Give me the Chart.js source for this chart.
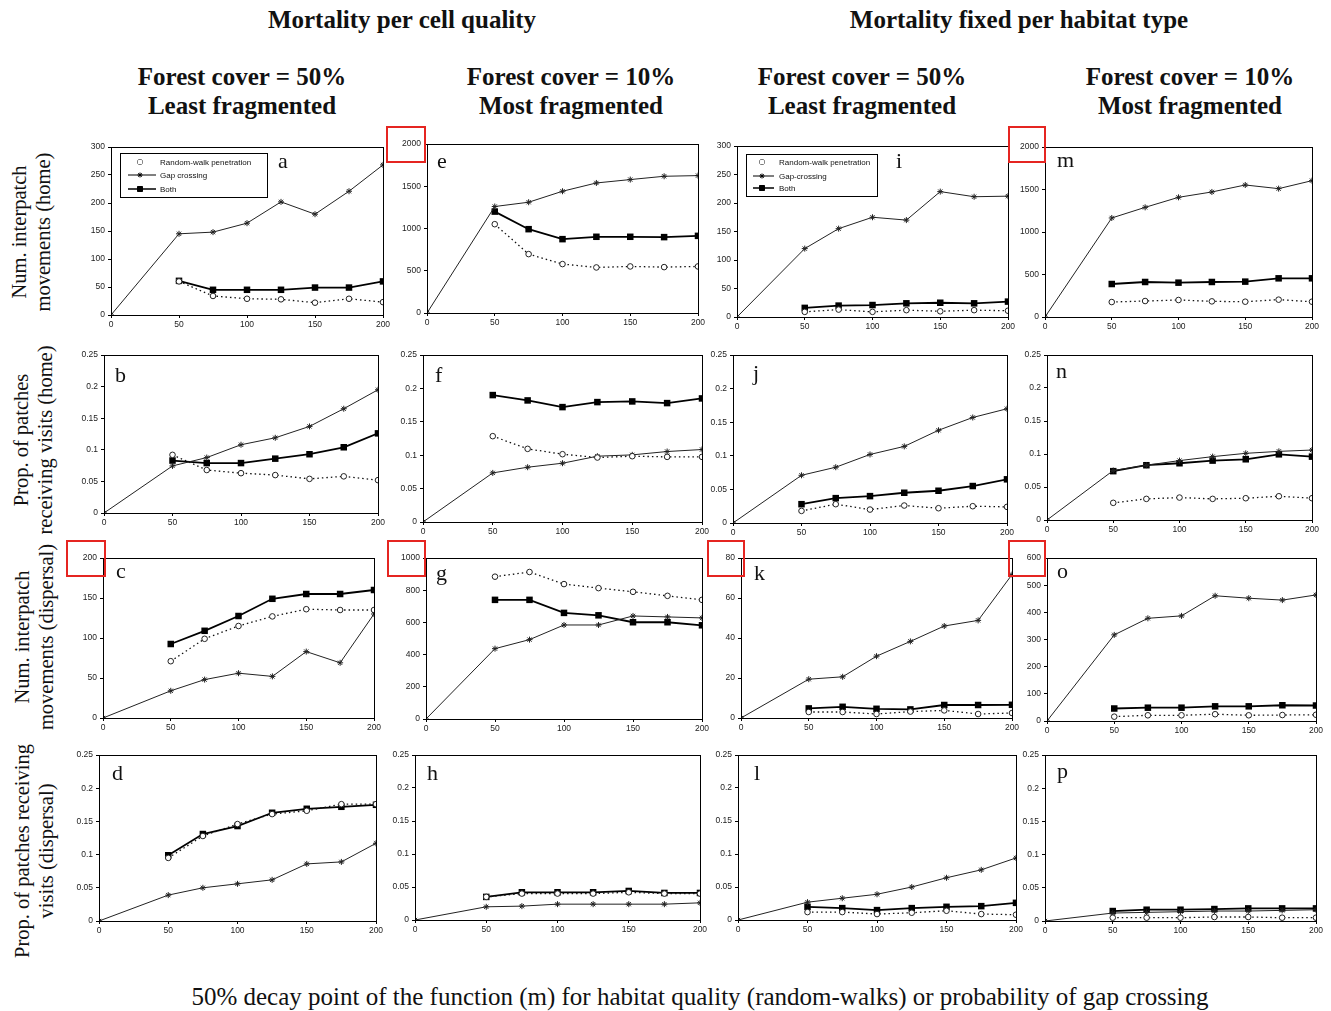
<!DOCTYPE html>
<html>
<head>
<meta charset="utf-8">
<script src="https://cdn.jsdelivr.net/npm/chart.js@4.4.0/dist/chart.umd.min.js"></script>
<style>
  body { margin:0; background:#fff; width:1331px; height:1011px; position:relative; overflow:hidden; font-family:"Liberation Serif", serif; color:#111; }
  .c { position:absolute; white-space:nowrap; transform:translate(-50%,-50%); }
  .ttl { font-weight:bold; font-size:25px; line-height:26px; }
  .hd { font-weight:bold; font-size:25px; line-height:29px; text-align:center; }
  .yl { position:absolute; white-space:nowrap; text-align:center; font-size:20.5px; line-height:24px; transform:translate(-50%,-50%) rotate(-90deg); }
  .lt { position:absolute; font-size:22px; line-height:22px; }
  .rb { position:absolute; border:2px solid #e52521; box-sizing:border-box; z-index:5; }
  canvas { position:absolute; }
</style>
</head>
<body>
<div class="c ttl" style="left:402px;top:20px">Mortality per cell quality</div>
<div class="c ttl" style="left:1019px;top:20px">Mortality fixed per habitat type</div>

<div class="c hd" style="left:242px;top:91px">Forest cover = 50%<br>Least fragmented</div>
<div class="c hd" style="left:571px;top:91px">Forest cover = 10%<br>Most fragmented</div>
<div class="c hd" style="left:862px;top:91px">Forest cover = 50%<br>Least fragmented</div>
<div class="c hd" style="left:1190px;top:91px">Forest cover = 10%<br>Most fragmented</div>

<div class="yl" style="left:31px;top:232px">Num. interpatch<br>movements (home)</div>
<div class="yl" style="left:33px;top:440px">Prop. of patches<br>receiving visits (home)</div>
<div class="yl" style="left:34px;top:637px">Num. interpatch<br>movements (dispersal)</div>
<div class="yl" style="left:34px;top:851px">Prop. of patches receiving<br>visits (dispersal)</div>

<div class="c" style="left:700px;top:997px;font-size:25px">50% decay point of the function (m) for habitat quality (random-walks) or probability of gap crossing</div>

<div class="rb" style="left:386px;top:126px;width:40px;height:37px"></div>
<div class="rb" style="left:1008px;top:126px;width:38px;height:37px"></div>
<div class="rb" style="left:66px;top:540px;width:40px;height:37px"></div>
<div class="rb" style="left:387px;top:540px;width:39px;height:37px"></div>
<div class="rb" style="left:707px;top:540px;width:38px;height:37px"></div>
<div class="rb" style="left:1008px;top:540px;width:38px;height:37px"></div>

<div id="wrap"></div>

<script>
// x positions (m) of the series; gap-crossing also starts from the origin
const xs = [50, 75, 100, 125, 150, 175, 200];
const gapXs = [0, 50, 75, 100, 125, 150, 175, 200];

// a
const aRw   = [60, 34, 29, 28, 22, 29, 23];
const aGap  = [0, 145, 148, 164, 202, 180, 221, 268];
const aBoth = [61, 45, 45, 45, 49, 49, 60];
// e
const eRw   = [1051, 697, 579, 539, 551, 543, 551];
const eGap  = [0, 1260, 1311, 1441, 1539, 1579, 1618, 1626];
const eBoth = [1200, 992, 874, 902, 902, 898, 913];
// i
const iRw   = [9, 13, 9, 12, 10, 12, 11];
const iGap  = [0, 120, 155, 175, 170, 220, 211, 212];
const iBoth = [16, 20, 21, 24, 25, 24, 27];
// m
const mRw   = [176, 188, 200, 184, 180, 204, 180];
const mGap  = [0, 1165, 1290, 1408, 1471, 1553, 1510, 1604];
const mBoth = [388, 412, 404, 412, 416, 455, 455];
// b
const bRw   = [0.092, 0.068, 0.063, 0.060, 0.054, 0.058, 0.052];
const bGap  = [0, 0.0745, 0.0877, 0.108, 0.119, 0.137, 0.165, 0.195];
const bBoth = [0.083, 0.079, 0.079, 0.086, 0.093, 0.104, 0.126];
// f
const fRw   = [0.1285, 0.1095, 0.1015, 0.0965, 0.0985, 0.0975, 0.0975];
const fGap  = [0, 0.0735, 0.082, 0.088, 0.0985, 0.1005, 0.1055, 0.1085];
const fBoth = [0.19, 0.182, 0.172, 0.1795, 0.1805, 0.178, 0.185];
// j
const jRw   = [0.018, 0.028, 0.020, 0.026, 0.022, 0.025, 0.024];
const jGap  = [0, 0.071, 0.083, 0.102, 0.114, 0.138, 0.157, 0.170];
const jBoth = [0.028, 0.037, 0.040, 0.045, 0.048, 0.055, 0.065];
// n
const nRw   = [0.026, 0.032, 0.034, 0.032, 0.033, 0.036, 0.033];
const nGap  = [0, 0.075, 0.083, 0.090, 0.096, 0.101, 0.104, 0.106];
const nBoth = [0.074, 0.083, 0.086, 0.090, 0.092, 0.0995, 0.096];
// c
const cRw   = [71, 99, 115, 127, 136, 135, 135];
const cGap  = [0, 34, 48, 56, 52, 83, 69, 130];
const cBoth = [92.5, 109, 127.5, 149, 155, 155, 160];
// g
const gRw   = [884, 913, 838, 813, 790, 765, 740];
const gGap  = [0, 437, 493, 584, 584, 640, 634, 628];
const gBoth = [740, 740, 659, 644, 601, 601, 582];
// k
const kRw   = [3, 3, 2, 3.2, 3.8, 2, 2.5];
const kGap  = [0, 19.4, 20.6, 30.9, 38.3, 46, 48.8, 71.7];
const kBoth = [4.8, 5.6, 4.6, 4.3, 6.5, 6.5, 6.6];
// o
const oRw   = [16, 21, 21, 25, 21, 22, 23];
const oGap  = [0, 317, 378, 387, 461, 452, 445, 464];
const oBoth = [46, 49, 49, 54, 54, 58, 57];
// d
const dRw   = [0.095, 0.128, 0.146, 0.161, 0.166, 0.176, 0.176];
const dGap  = [0, 0.039, 0.050, 0.056, 0.062, 0.086, 0.089, 0.117];
const dBoth = [0.099, 0.131, 0.143, 0.163, 0.169, 0.172, 0.175];
// h
const hRw   = [0.035, 0.040, 0.040, 0.040, 0.042, 0.040, 0.040];
const hGap  = [0, 0.020, 0.021, 0.024, 0.024, 0.024, 0.024, 0.026];
const hBoth = [0.035, 0.042, 0.042, 0.042, 0.044, 0.041, 0.041];
// l
const lRw   = [0.012, 0.012, 0.009, 0.011, 0.014, 0.009, 0.008];
const lGap  = [0, 0.027, 0.033, 0.039, 0.050, 0.064, 0.076, 0.094];
const lBoth = [0.020, 0.018, 0.015, 0.018, 0.020, 0.021, 0.026];
// p
const pRw   = [0.005, 0.005, 0.005, 0.006, 0.006, 0.005, 0.005];
const pGap  = [0, 0.012, 0.013, 0.014, 0.015, 0.015, 0.016, 0.017];
const pBoth = [0.015, 0.017, 0.017, 0.018, 0.019, 0.019, 0.019];

const legendA = ['Random-walk penetration', 'Gap crossing', 'Both'];
const legendI = ['Random-walk penetration', 'Gap-crossing', 'Both'];

// plot area rectangles on the page [left, top, right, bottom], letter baseline
const panels = [
  {k:'a', r:[111,147,383,315], max:300,  step:50,  rw:aRw, gap:aGap, both:aBoth, lx:278, ly:168,
   leg:{labels:legendA, dx:9, dy:6, w:147, h:44, rows:[9,22,36], l0:8, l1:36, mk:20, tx:40}},
  {k:'e', r:[427,144,698,313], max:2000, step:500, rw:eRw, gap:eGap, both:eBoth, lx:437, ly:168},
  {k:'i', r:[737,146,1008,317], max:300, step:50,  rw:iRw, gap:iGap, both:iBoth, lx:896, ly:168,
   leg:{labels:legendI, dx:9, dy:8, w:131, h:42, rows:[8,22,34], l0:7, l1:28, mk:16, tx:33}},
  {k:'m', r:[1045,147,1312,317], max:2000, step:500, rw:mRw, gap:mGap, both:mBoth, lx:1057, ly:167},
  {k:'b', r:[104,355,378,513], max:0.25, step:0.05, rw:bRw, gap:bGap, both:bBoth, lx:115, ly:382},
  {k:'f', r:[423,355,702,522], max:0.25, step:0.05, rw:fRw, gap:fGap, both:fBoth, lx:435, ly:382},
  {k:'j', r:[733,355,1007,523], max:0.25, step:0.05, rw:jRw, gap:jGap, both:jBoth, lx:753, ly:380},
  {k:'n', r:[1047,355,1312,520], max:0.25, step:0.05, rw:nRw, gap:nGap, both:nBoth, lx:1056, ly:378},
  {k:'c', r:[103,558,374,718], max:200,  step:50,  rw:cRw, gap:cGap, both:cBoth, lx:116, ly:578},
  {k:'g', r:[426,558,702,719], max:1000, step:200, rw:gRw, gap:gGap, both:gBoth, lx:436, ly:580},
  {k:'k', r:[741,558,1012,718], max:80,  step:20,  rw:kRw, gap:kGap, both:kBoth, lx:754, ly:580},
  {k:'o', r:[1047,558,1316,721], max:600, step:100, rw:oRw, gap:oGap, both:oBoth, lx:1057, ly:578},
  {k:'d', r:[99,755,376,921],  max:0.25, step:0.05, rw:dRw, gap:dGap, both:dBoth, lx:112, ly:780},
  {k:'h', r:[415,755,700,920], max:0.25, step:0.05, rw:hRw, gap:hGap, both:hBoth, lx:427, ly:780},
  {k:'l', r:[738,755,1016,920], max:0.25, step:0.05, rw:lRw, gap:lGap, both:lBoth, lx:754, ly:780},
  {k:'p', r:[1045,755,1316,921], max:0.25, step:0.05, rw:pRw, gap:pGap, both:pBoth, lx:1057, ly:778}
];

const PL = 36, PT = 10, PR = 14, PB = 20;
const tickFont = {family: '"Liberation Sans", Arial, sans-serif', size: 8.5};
// Excel style numbers: 2000, 0.1, 0.05
const fmt = v => String(+Number(v).toFixed(3));

function pts(xv, yv) { return yv.map((y, i) => ({x: xv[i], y: y})); }

// frame around the plot area + legend box inside it
const framePlugin = {
  id: 'frame',
  afterDraw(chart, args, opts) {
    const ctx = chart.ctx, a = chart.chartArea;
    ctx.save();
    ctx.strokeStyle = '#000';
    ctx.lineWidth = 1;
    ctx.strokeRect(a.left + 0.5, a.top + 0.5, a.right - a.left, a.bottom - a.top);
    const leg = opts.leg;
    if (leg) {
      const bx = a.left + leg.dx, by = a.top + leg.dy;
      ctx.fillStyle = '#fff';
      ctx.fillRect(bx, by, leg.w, leg.h);
      ctx.strokeRect(bx + 0.5, by + 0.5, leg.w, leg.h);
      ctx.font = '8px "Liberation Sans", Arial, sans-serif';
      ctx.textBaseline = 'middle';
      chart.data.datasets.forEach((ds, i) => {
        const y = by + leg.rows[i];
        if (i > 0) {
          ctx.beginPath();
          ctx.strokeStyle = '#000';
          ctx.lineWidth = i === 2 ? 1.5 : 1;
          ctx.moveTo(bx + leg.l0, y);
          ctx.lineTo(bx + leg.l1, y);
          ctx.stroke();
        }
        ctx.lineWidth = 1;
        ctx.strokeStyle = '#000';
        ctx.fillStyle = ds.pointBackgroundColor;
        Chart.helpers.drawPoint(ctx, {pointStyle: ds.pointStyle, radius: i === 2 ? 3.5 : 2.5, rotation: 0, borderWidth: 1}, bx + leg.mk, y);
        if (i !== 1) ctx.fill();
        ctx.fillStyle = '#111';
        ctx.fillText(leg.labels[i], bx + leg.tx, y + 0.5);
      });
    }
    ctx.restore();
  }
};

const wrap = document.getElementById('wrap');
panels.forEach(p => {
  const [L, T, R, B] = p.r;
  const cv = document.createElement('canvas');
  const W = (R - L) + PL + PR, H = (B - T) + PT + PB;
  cv.width = W; cv.height = H;
  cv.style.left = (L - PL) + 'px';
  cv.style.top = (T - PT) + 'px';
  cv.style.width = W + 'px';
  cv.style.height = H + 'px';
  wrap.appendChild(cv);

  const lt = document.createElement('div');
  lt.className = 'lt';
  lt.textContent = p.k;
  lt.style.left = p.lx + 'px';
  lt.style.top = (p.ly - 18) + 'px';
  document.body.appendChild(lt);

  new Chart(cv, {
    type: 'line',
    data: {
      datasets: [
        {label: 'Random-walk penetration', data: pts(xs, p.rw), borderColor: '#111', borderWidth: 1.3,
         borderDash: [1.5, 3], pointStyle: 'circle', pointRadius: 2.8, pointBackgroundColor: '#fff',
         pointBorderColor: '#222', pointBorderWidth: 1, tension: 0},
        {label: 'Gap crossing', data: pts(gapXs, p.gap), borderColor: '#222', borderWidth: 1,
         pointStyle: 'star', pointRadius: 3, pointBackgroundColor: '#222', pointBorderColor: '#222',
         pointBorderWidth: 1, tension: 0},
        {label: 'Both', data: pts(xs, p.both), borderColor: '#000', borderWidth: 1.8,
         pointStyle: 'rect', pointRadius: 4.6, pointBackgroundColor: '#000', pointBorderColor: '#000',
         pointBorderWidth: 0, tension: 0}
      ]
    },
    options: {
      responsive: false,
      animation: false,
      events: [],
      layout: {padding: {left: 0, top: PT, right: PR, bottom: 0}},
      plugins: {legend: {display: false}, tooltip: {enabled: false}, frame: {leg: p.leg}},
      scales: {
        x: {
          type: 'linear', min: 0, max: 200,
          ticks: {stepSize: 50, maxRotation: 0, autoSkip: false, font: tickFont, color: '#222', padding: 2, callback: fmt},
          grid: {display: true, drawOnChartArea: false, drawTicks: true, tickLength: 3, color: '#000'},
          border: {display: true, color: '#000'},
          afterFit(s) { s.height = PB; }
        },
        y: {
          min: 0, max: p.max,
          ticks: {stepSize: p.step, font: tickFont, color: '#222', padding: 3, callback: fmt},
          grid: {display: true, drawOnChartArea: false, drawTicks: true, tickLength: 3, color: '#000'},
          border: {display: true, color: '#000'},
          afterFit(s) { s.width = PL; }
        }
      }
    },
    plugins: [framePlugin]
  });
});
</script>
</body>
</html>
